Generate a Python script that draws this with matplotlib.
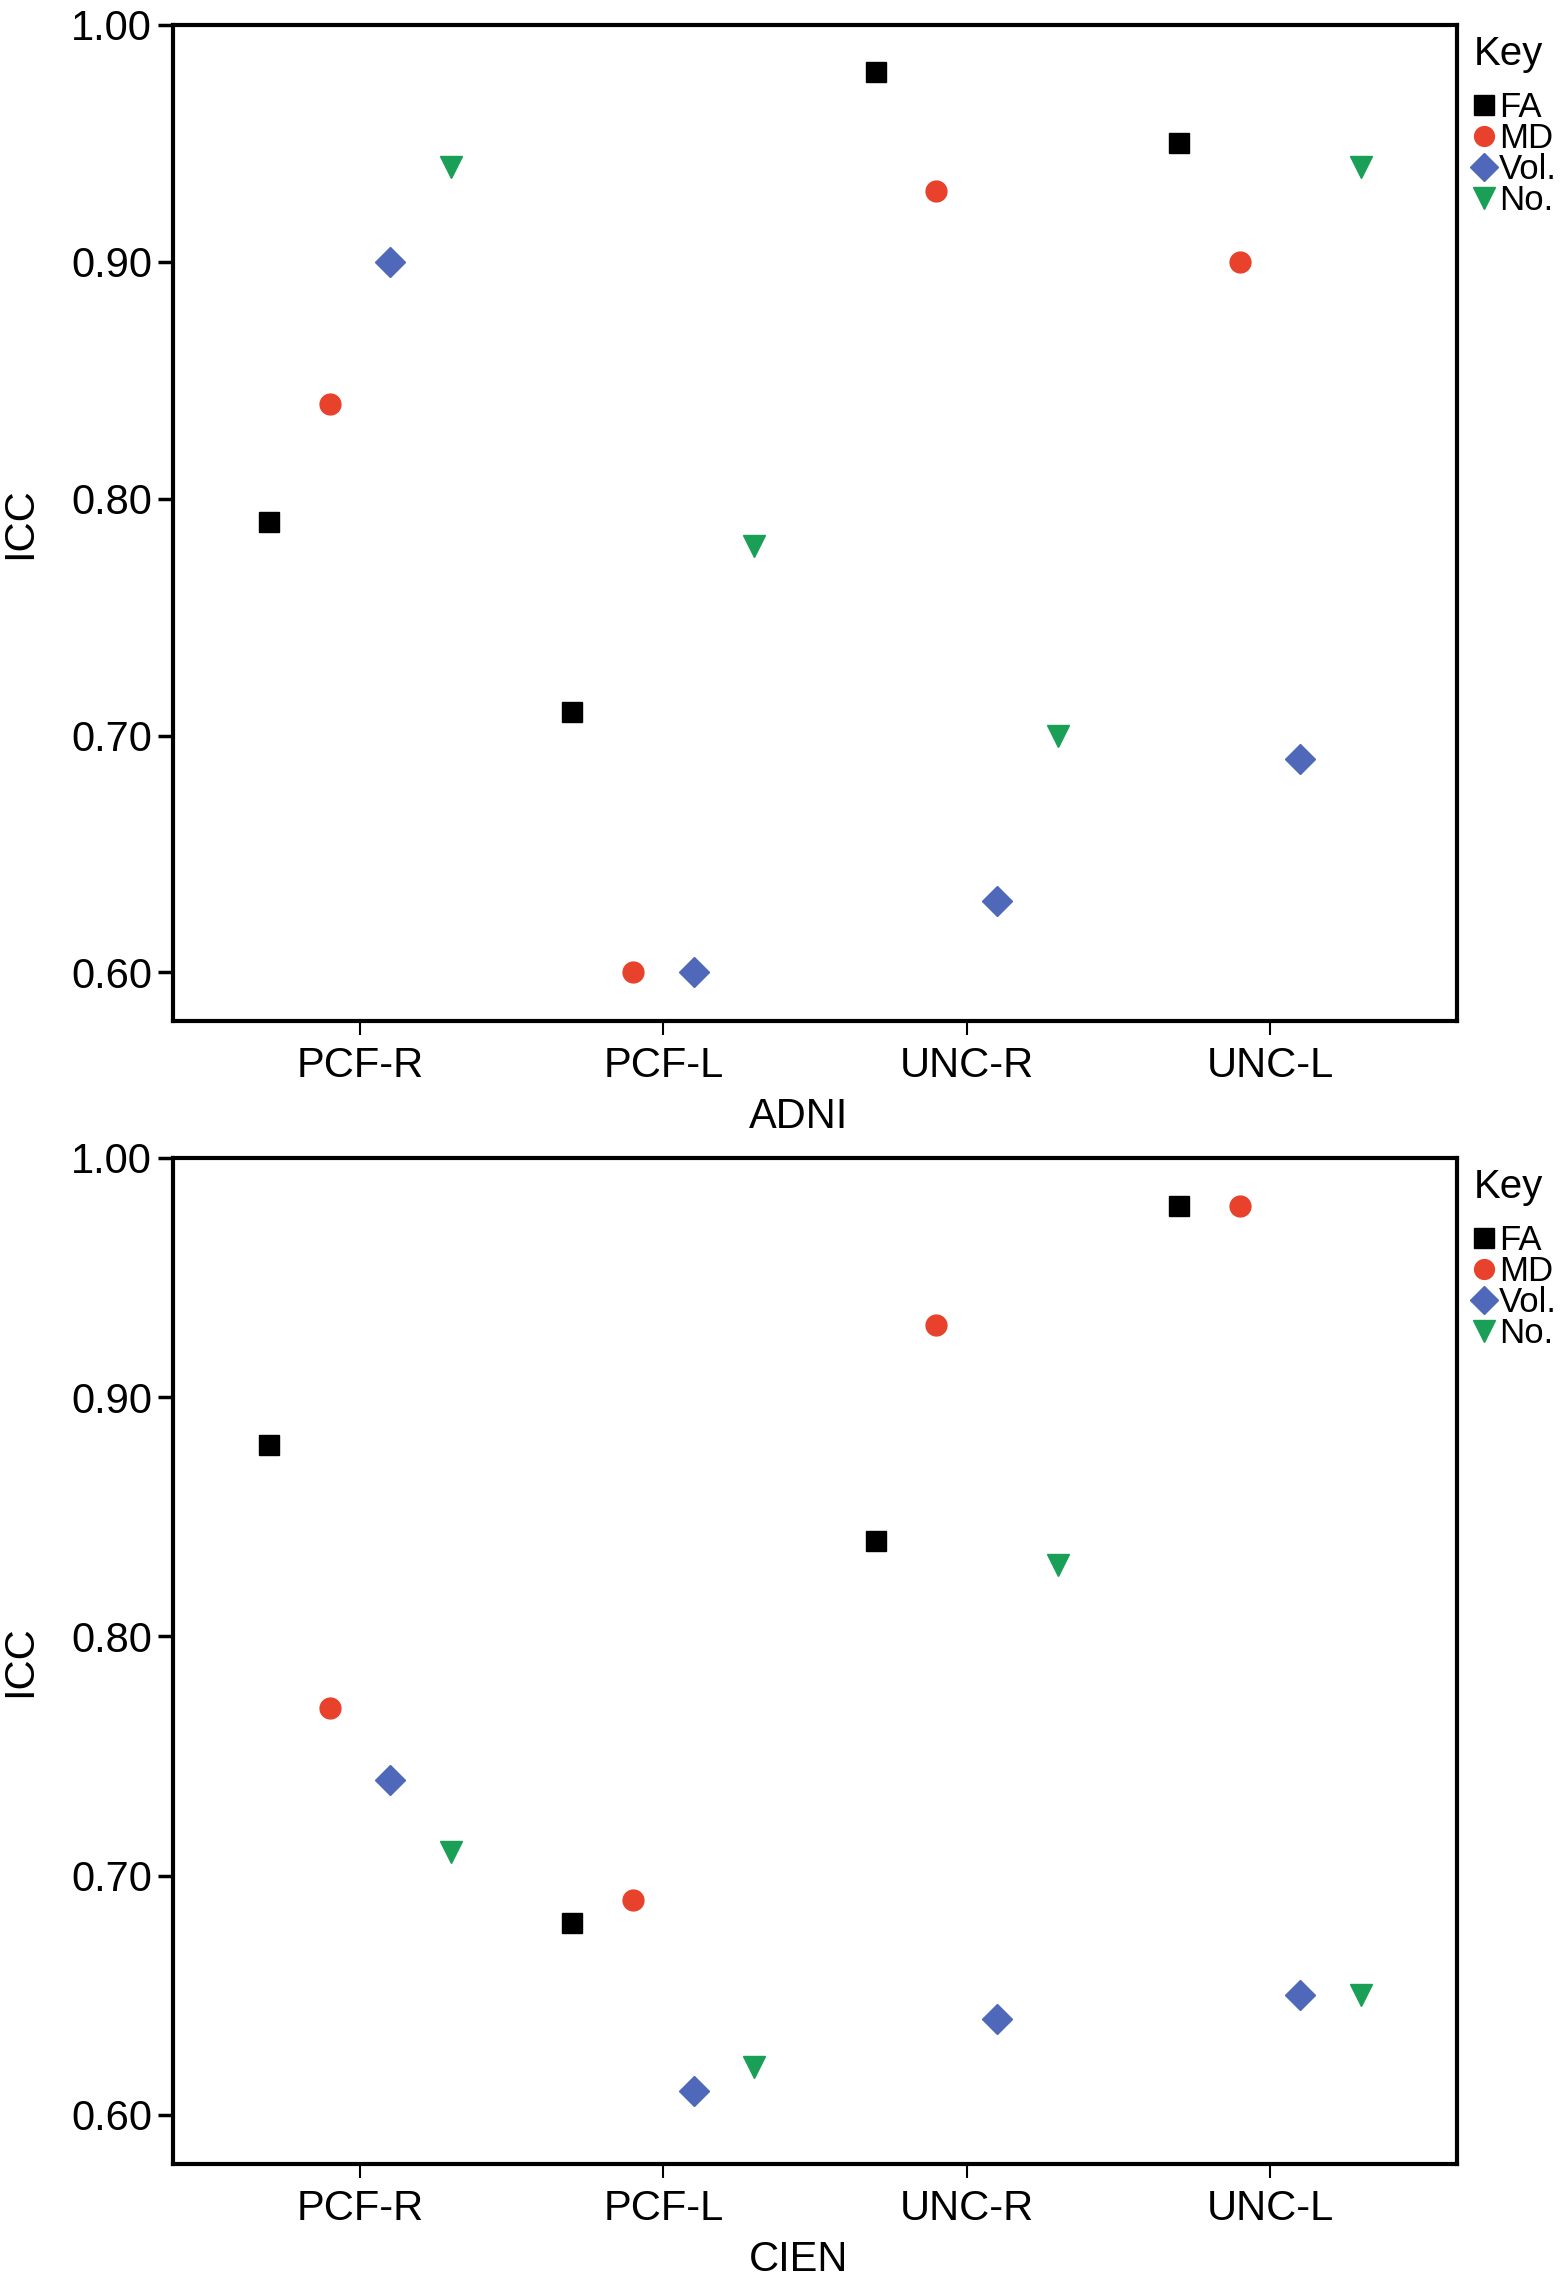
import matplotlib
matplotlib.use('Agg')
import matplotlib.pyplot as plt

plt.rcParams['font.family'] = ['Liberation Sans', 'DejaVu Sans']

tracts = ['PCF-R', 'PCF-L', 'UNC-R', 'UNC-L']
measures = ['FA', 'MD', 'Vol.', 'No.']

adni_fa = [0.79, 0.71, 0.98, 0.95]
adni_md = [0.84, 0.60, 0.93, 0.90]
adni_vol = [0.90, 0.60, 0.63, 0.69]
adni_no = [0.94, 0.78, 0.70, 0.94]

cien_fa = [0.88, 0.68, 0.84, 0.98]
cien_md = [0.77, 0.69, 0.93, 0.98]
cien_vol = [0.74, 0.61, 0.64, 0.65]
cien_no = [0.71, 0.62, 0.83, 0.65]

yticks = [0.60, 0.70, 0.80, 0.90, 1.00]

offsets = [-0.3, -0.1, 0.1, 0.3]
markers = ['s', 'o', 'D', 'v']
sizes = [15, 15, 15, 16]
colors = ['#000000', '#e8412c', '#4f68b9', '#1a9f57']

fig = plt.figure(figsize=(15.61, 22.85), dpi=100)
ax_top = fig.add_axes([0.1108, 0.5532, 0.8226, 0.4359])
ax_bot = fig.add_axes([0.1108, 0.0530, 0.8226, 0.4403])

panels = [
    (ax_top, 'ADNI', [adni_fa, adni_md, adni_vol, adni_no]),
    (ax_bot, 'CIEN', [cien_fa, cien_md, cien_vol, cien_no]),
]

for ax, name, series in panels:
    for k, vals in enumerate(series):
        xs = [i + offsets[k] for i in range(len(tracts))]
        ax.plot(xs, vals, linestyle='none', marker=markers[k],
                markersize=sizes[k], color=colors[k], label=measures[k])

    ax.set_xlim(-0.617, 3.617)
    ax.set_ylim(0.5795, 1.0)
    ax.set_xticks(range(len(tracts)))
    ax.set_xticklabels(tracts, fontsize=30)
    ax.set_yticks(yticks)
    ax.set_yticklabels(['%.2f' % v for v in yticks], fontsize=30)
    ax.tick_params(axis='y', length=11, width=2.5, pad=4)
    ax.tick_params(axis='x', length=10, width=1.5, pad=8)
    for sp in ax.spines.values():
        sp.set_linewidth(3)
    ax.set_ylabel('ICC', fontsize=30, labelpad=22)
    ax.set_xlabel(name, fontsize=30)
    ax.xaxis.set_label_coords(0.487, -0.076)

    leg = ax.legend(title='Key', loc='upper left', bbox_to_anchor=(1.005, 1.0),
                    frameon=False, fontsize=25, title_fontsize=29,
                    handlelength=0.6, handletextpad=0.12, labelspacing=-0.06,
                    borderaxespad=0.1, borderpad=0.2, markerscale=0.95,
                    alignment='left')
    leg._legend_box.sep = 13

fig.savefig('out.png', dpi=100)
